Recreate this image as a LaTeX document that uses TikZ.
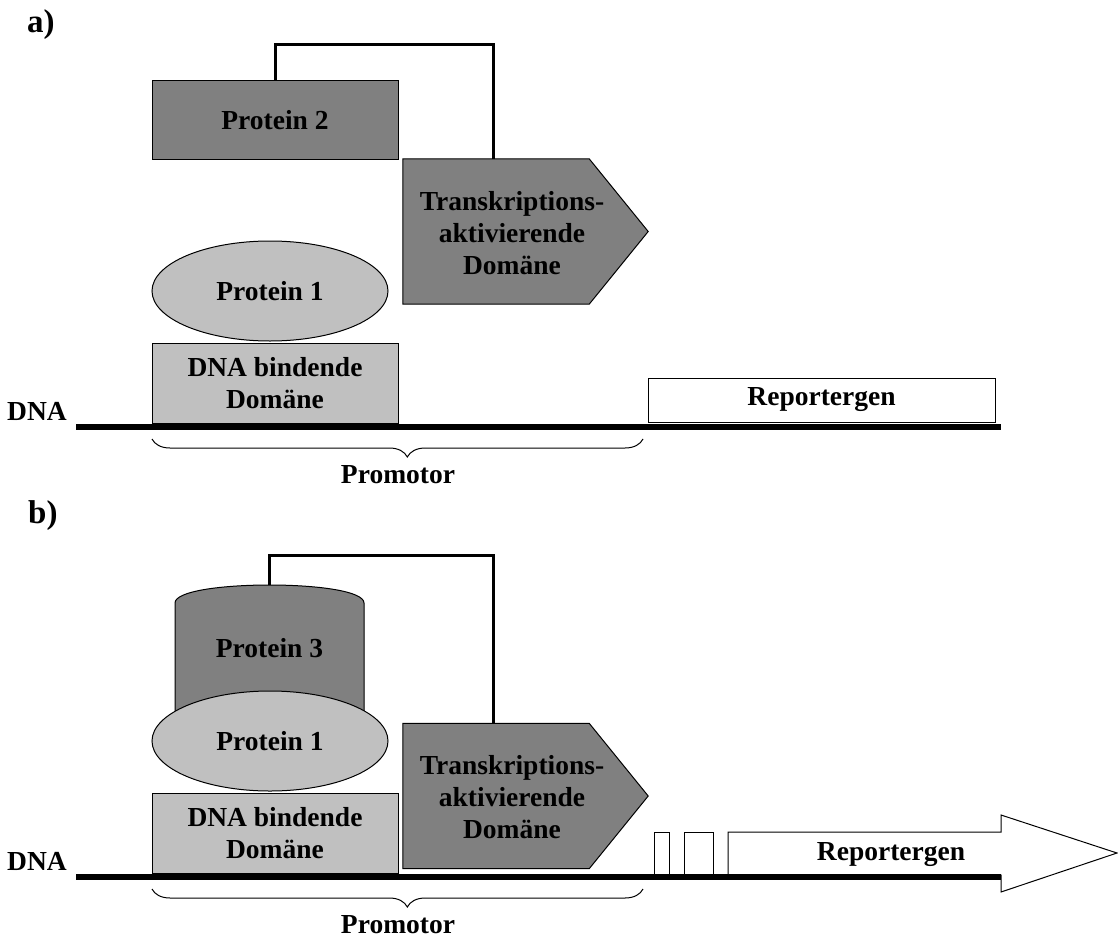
\documentclass[tikz,border=0pt]{standalone}
\usepackage{fontspec}
\setmainfont{Liberation Serif}
\usetikzlibrary{shapes.geometric,decorations.pathreplacing,backgrounds}
\definecolor{protdark}{HTML}{808080}
\definecolor{protlight}{HTML}{C0C0C0}
\begin{document}
\begin{tikzpicture}[x=1pt,y=-1pt,
  lbl/.style={font=\fontsize{27.5}{32}\selectfont\bfseries, align=center},
  part/.style={font=\fontsize{33}{36}\selectfont\bfseries, anchor=base west, inner sep=0pt},
  box/.style={draw=black, line width=1pt, inner sep=0pt, lbl},
  darkbox/.style={box, fill=protdark},
  lightbox/.style={box, fill=protlight},
  whitebox/.style={box, fill=white},
  frame/.style={inner sep=0pt, minimum width=245, minimum height=145},
  outline/.style={draw=black, line width=1pt, line join=miter},
  link/.style={line width=3pt, line join=miter},
  dna/.style={line width=6pt},
  brc/.style={decorate, decoration={brace, mirror, amplitude=18pt, aspect=0.52}, line width=1pt},
]
\useasboundingbox (0,0) rectangle (1118,939);

% ---------------- a) ----------------
\node[part] (labA) at (27,33) {a)};

\node[darkbox, minimum width=246, minimum height=78] (p2) at (275,120) {Protein 2};
\node[lightbox, ellipse, minimum width=236, minimum height=100] (p1a) at (270,291) {Protein 1};
\node[lightbox, minimum width=246, minimum height=80] (dbdA) at (275,383) {DNA bindende\\Domäne};

% transcription activating domain (pentagon arrow)
\node[frame] (tadA) at (525.5,231.5) {};
\begin{scope}[on background layer]
  \draw[outline, fill=protdark] (tadA.north west) -- ([xshift=-59pt]tadA.north east)
    -- (tadA.east) -- ([xshift=-59pt]tadA.south east) -- (tadA.south west) -- cycle;
\end{scope}
\node[lbl] (tadAtxt) at (512,233) {Transkriptions-\\aktivierende\\Domäne};

\coordinate (bendA) at (493,45);
\draw[link] (p2.north) |- (bendA) -- (tadA.north -| bendA);

\node[whitebox, minimum width=347, minimum height=44] (repA) at (821.5,400) {Reportergen};

\node[lbl, anchor=base east, inner sep=0pt] (dnaA) at (67,420) {DNA};
\coordinate (dnaAs) at (76,427);
\coordinate (dnaAe) at (1001,427);
\draw[dna] (dnaAs) -- (dnaAe);

\coordinate (prAl) at (152,439);
\coordinate (prAr) at (643,439);
\draw[brc] (prAl) -- (prAr);
\node[lbl, anchor=base, inner sep=0pt] (promA) at (398,483) {Promotor};

% ---------------- b) ----------------
\node[part] (labB) at (28,523) {b)};

% protein 3 drawn as a can, its lower part hidden by protein 1
\draw[outline, fill=protdark] (175,603) .. controls (175,579) and (364,579) .. (364,603)
  -- (364,745) .. controls (364,769) and (175,769) .. (175,745) -- cycle;
\node[lbl, inner sep=0pt, minimum width=189, minimum height=126] (p3) at (269.5,648) {Protein 3};

\node[lightbox, ellipse, minimum width=236, minimum height=100] (p1b) at (270,741) {Protein 1};
\node[lightbox, minimum width=246, minimum height=80] (dbdB) at (275,833) {DNA bindende\\Domäne};

\node[frame] (tadB) at (525.5,796) {};
\begin{scope}[on background layer]
  \draw[outline, fill=protdark] (tadB.north west) -- ([xshift=-59pt]tadB.north east)
    -- (tadB.east) -- ([xshift=-59pt]tadB.south east) -- (tadB.south west) -- cycle;
\end{scope}
\node[lbl] (tadBtxt) at (512,797) {Transkriptions-\\aktivierende\\Domäne};

\coordinate (bendB) at (493,555);
\draw[link] (p3.north) |- (bendB) -- (tadB.north -| bendB);

% small boxes in front of the reporter gene
\node[whitebox, minimum width=15, minimum height=43] (boxB1) at (661.5,853.5) {};
\node[whitebox, minimum width=29, minimum height=43] (boxB2) at (698.5,853.5) {};

% reporter gene as a block arrow
\draw[outline, fill=white] (728,832) -- (1001,832) -- (1001,815) -- (1117,853)
  -- (1001,892) -- (1001,875) -- (728,875) -- cycle;
\node[lbl, inner sep=0pt] (repB) at (891,855) {Reportergen};

\node[lbl, anchor=base east, inner sep=0pt] (dnaB) at (67,870) {DNA};
\coordinate (dnaBs) at (76,877);
\coordinate (dnaBe) at (1001,877);
\draw[dna] (dnaBs) -- (dnaBe);

\coordinate (prBl) at (152,889);
\coordinate (prBr) at (643,889);
\draw[brc] (prBl) -- (prBr);
\node[lbl, anchor=base, inner sep=0pt] (promB) at (398,933) {Promotor};
\end{tikzpicture}
\end{document}
